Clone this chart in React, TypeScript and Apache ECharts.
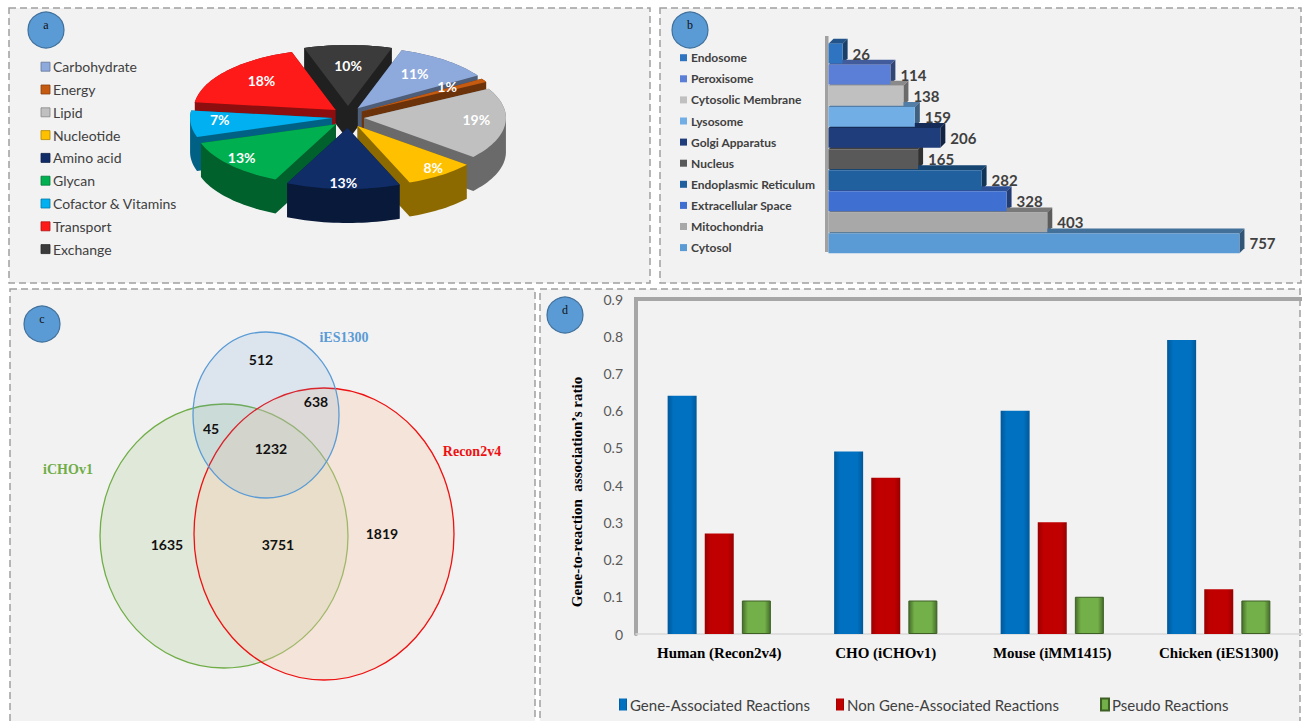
import React, { useEffect, useRef } from 'react';
import * as echarts from 'echarts';

// ---------- Panel a: reaction subsystems ----------
const pieNames = ['Carbohydrate', 'Energy', 'Lipid', 'Nucleotide', 'Amino acid', 'Glycan', 'Cofactor & Vitamins', 'Transport', 'Exchange'];
const pieValues = [11, 1, 19, 8, 13, 13, 7, 18, 10];
const pieColors = ['#8ea9db', '#c55a11', '#c0c0c0', '#ffc000', '#112d68', '#00b050', '#00b0f0', '#ff1a1a', '#3b3b3b'];

// ---------- Panel b: compartments ----------
const locNames = ['Endosome', 'Peroxisome', 'Cytosolic Membrane', 'Lysosome', 'Golgi Apparatus', 'Nucleus', 'Endoplasmic Reticulum', 'Extracellular Space', 'Mitochondria', 'Cytosol'];
const locValues = [26, 114, 138, 159, 206, 165, 282, 328, 403, 757];
const locColors = ['#2f74c0', '#5b7fd6', '#c0c0c0', '#72aee6', '#1f3d7a', '#595959', '#20609f', '#3f6fd0', '#a8a8a8', '#5b9bd5'];

// ---------- Panel c: Venn ----------
const vennSetNames = ['iES1300', 'iCHOv1', 'Recon2v4'];
const vennCounts = [512, 638, 45, 1232, 1635, 3751, 1819];

// ---------- Panel d: GPR ratio ----------
const organisms = ['Human (Recon2v4)', 'CHO (iCHOv1)', 'Mouse (iMM1415)', 'Chicken (iES1300)'];
const geneAssociated = [0.64, 0.49, 0.6, 0.79];
const nonGeneAssociated = [0.27, 0.42, 0.3, 0.12];
const pseudoReactions = [0.09, 0.09, 0.1, 0.09];
const seriesNamesD = ['Gene-Associated Reactions', 'Non Gene-Associated Reactions', 'Pseudo Reactions'];
const yTitleD = 'Gene-to-reaction  association\u2019s ratio';

function shade(hex: string, f: number): string {
  const n = parseInt(hex.slice(1), 16);
  const r = Math.round(((n >> 16) & 255) * f);
  const g = Math.round(((n >> 8) & 255) * f);
  const b = Math.round((n & 255) * f);
  return '#' + [r, g, b].map((c) => c.toString(16).padStart(2, '0')).join('');
}

function convexHull(points: number[][]): number[][] {
  const pts = points.slice().sort((a, b) => a[0] - b[0] || a[1] - b[1]);
  const cross = (o: number[], a: number[], b: number[]) => (a[0] - o[0]) * (b[1] - o[1]) - (a[1] - o[1]) * (b[0] - o[0]);
  const lower: number[][] = [];
  for (const p of pts) {
    while (lower.length >= 2 && cross(lower[lower.length - 2], lower[lower.length - 1], p) <= 0) lower.pop();
    lower.push(p);
  }
  const upper: number[][] = [];
  for (let i = pts.length - 1; i >= 0; i--) {
    const p = pts[i];
    while (upper.length >= 2 && cross(upper[upper.length - 2], upper[upper.length - 1], p) <= 0) upper.pop();
    upper.push(p);
  }
  upper.pop();
  lower.pop();
  return lower.concat(upper);
}

const PIE = { cx: 348, cy: 117, rx: 142, ry: 61, depth: 34, ex: 16, ey: 11, start: 18 };
const pieTotal = pieValues.reduce((a, b) => a + b, 0);
const pieBefore = pieValues.map((_, i) => pieValues.slice(0, i).reduce((a, b) => a + b, 0));

const panelFill = '#f2f2f2';
const dash = { stroke: '#a0a0a0', lineWidth: 1.5, lineDash: [7, 4] };

function labelCircle(cx: number, cy: number, letter: string) {
  return [
    { type: 'circle', shape: { cx, cy, r: 18 }, style: { fill: '#5b9bd5', stroke: '#41719c', lineWidth: 1.2 }, z: 5 },
    { type: 'text', style: { text: letter, x: cx, y: cy - 5, fill: '#111', fontSize: 12, fontFamily: 'Liberation Serif', align: 'center', verticalAlign: 'middle' }, z: 6 },
  ];
}

export default function App() {
  const ref = useRef<HTMLDivElement>(null);

  useEffect(() => {
    if (!ref.current) return;
    const chart = echarts.init(ref.current, null, { renderer: 'svg' });

    const graphics: any[] = [];
    // panel backgrounds + dashed borders
    graphics.push({ type: 'rect', shape: { x: 9, y: 8, width: 641, height: 275 }, style: { fill: panelFill, ...dash }, z: -5 });
    graphics.push({ type: 'rect', shape: { x: 660, y: 8, width: 641, height: 275 }, style: { fill: panelFill, ...dash }, z: -5 });
    graphics.push({ type: 'rect', shape: { x: 10, y: 289, width: 525, height: 450 }, style: { fill: panelFill, ...dash }, z: -5 });
    graphics.push({ type: 'rect', shape: { x: 540, y: 289, width: 760, height: 450 }, style: { fill: panelFill, ...dash }, z: -5 });

    graphics.push(...labelCircle(46, 30, 'a'));
    graphics.push(...labelCircle(690, 30, 'b'));
    graphics.push(...labelCircle(42, 324, 'c'));
    graphics.push(...labelCircle(565, 315, 'd'));

    // panel a legend
    pieNames.forEach((name, i) => {
      const y = 66.7 + i * 22.8;
      graphics.push({ type: 'rect', shape: { x: 41, y: y - 4.5, width: 9, height: 9 }, style: { fill: pieColors[i], stroke: shade(pieColors[i], 0.7), lineWidth: 0.8 }, z: 5 });
      graphics.push({ type: 'text', style: { text: name, x: 53, y, fill: '#404040', fontSize: 14, fontFamily: 'Lato', verticalAlign: 'middle' }, z: 5 });
    });

    // panel b legend
    locNames.forEach((name, i) => {
      const y = 57.7 + i * 21.1;
      graphics.push({ type: 'rect', shape: { x: 680, y: y - 3.5, width: 7, height: 7 }, style: { fill: locColors[i] }, z: 5 });
      graphics.push({ type: 'text', style: { text: name, x: 691, y, fill: '#404040', fontSize: 12, fontWeight: 'bold', fontFamily: 'Lato', verticalAlign: 'middle' }, z: 5 });
    });
    // panel b back wall
    graphics.push({ type: 'rect', shape: { x: 825, y: 36, width: 3.5, height: 216 }, style: { fill: '#7f7f7f', opacity: 0.7 }, z: 1 });

    // panel c venn
    const ellipses = [
      { cx: 224, cy: 536, rx: 124, ry: 132, fill: 'rgba(112,173,71,0.15)', stroke: '#70ad47' },
      { cx: 324, cy: 534, rx: 130, ry: 146, fill: 'rgba(248,203,173,0.35)', stroke: '#ee1111' },
      { cx: 266, cy: 415, rx: 73, ry: 83, fill: 'rgba(91,155,213,0.15)', stroke: '#5b9bd5' },
    ];
    ellipses.forEach((e) => {
      graphics.push({ type: 'ellipse', shape: { cx: e.cx, cy: e.cy, rx: e.rx, ry: e.ry }, style: { fill: e.fill, stroke: e.stroke, lineWidth: 1.3 }, z: 2 });
    });
    const countPos = [[261, 359], [316, 401], [211, 428], [271, 448], [167, 544], [278, 544], [382, 533]];
    vennCounts.forEach((c, i) => {
      graphics.push({ type: 'text', style: { text: String(c), x: countPos[i][0], y: countPos[i][1], fill: '#111', fontSize: 14, fontWeight: 'bold', fontFamily: 'Lato', align: 'center', verticalAlign: 'middle' }, z: 5 });
    });
    const setPos = [[344, 337, '#5b9bd5'], [68, 469, '#70ad47'], [472, 451, '#ee1111']];
    vennSetNames.forEach((n, i) => {
      graphics.push({ type: 'text', style: { text: n, x: setPos[i][0], y: setPos[i][1], fill: setPos[i][2], fontSize: 14, fontWeight: 'bold', fontFamily: 'Liberation Serif', align: 'center', verticalAlign: 'middle' }, z: 5 });
    });

    // panel d frame (3D wall top edge) and axis title
    graphics.push({ type: 'rect', shape: { x: 634, y: 297, width: 668, height: 4 }, style: { fill: '#a6a6a6' }, z: 1 });
    graphics.push({
      type: 'text', x: 577, y: 492, rotation: Math.PI / 2,
      style: { text: yTitleD, x: 0, y: 0, fill: '#000', fontSize: 15, fontWeight: 'bold', fontFamily: 'Liberation Serif', align: 'center', verticalAlign: 'middle' },
      z: 5,
    });

    const barGrad = (c1: string, c2: string) => ({
      type: 'linear', x: 0, y: 0, x2: 1, y2: 0,
      colorStops: [{ offset: 0, color: c2 }, { offset: 0.2, color: c1 }, { offset: 0.8, color: c1 }, { offset: 1, color: c2 }],
    });

    const legendBase = { top: 692, selectedMode: false, icon: 'rect', itemWidth: 8, itemHeight: 12, textStyle: { fontFamily: 'Lato', fontSize: 15, color: '#404040', padding: [0, 0, 0, -2] } };

    const option: any = {
      animation: false,
      backgroundColor: '#ffffff',
      graphic: { elements: graphics },
      grid: [
        { left: 828.5, top: 43, width: 434.3, height: 211 },
        { left: 636, top: 299, width: 666, height: 335 },
      ],
      xAxis: [
        { gridIndex: 0, type: 'value', min: 0, max: 800, show: false },
        {
          gridIndex: 1, type: 'category', data: organisms,
          axisLine: { show: true, lineStyle: { color: '#d9d9d9', width: 1.5 } },
          axisTick: { show: false },
          axisLabel: { color: '#000', fontFamily: 'Liberation Serif', fontWeight: 'bold', fontSize: 15, margin: 11 },
        },
      ],
      yAxis: [
        { gridIndex: 0, type: 'category', data: locNames, inverse: true, show: false },
        {
          gridIndex: 1, type: 'value', min: 0, max: 0.9, interval: 0.1,
          axisLine: { show: true, lineStyle: { color: '#a6a6a6', width: 4 } },
          axisTick: { show: false },
          splitLine: { show: false },
          axisLabel: { color: '#595959', fontFamily: 'Lato', fontSize: 14, margin: 13 },
        },
      ],
      legend: [
        { ...legendBase, data: [seriesNamesD[0]], left: 614 },
        { ...legendBase, data: [seriesNamesD[1]], left: 831 },
        { ...legendBase, data: [seriesNamesD[2]], left: 1095 },
      ],
      series: [
        {
          type: 'custom',
          name: 'Subsystems',
          coordinateSystem: 'none',
          data: pieValues.map((v, i) => ({ name: pieNames[i], value: [v] })),
          renderItem: (params: any, api: any) => {
            const i = params.dataIndex;
            const v = api.value(0) as number;
            const a0 = ((PIE.start + (pieBefore[i] / pieTotal) * 360) * Math.PI) / 180;
            const a1 = a0 + (v / pieTotal) * 2 * Math.PI;
            const am = (a0 + a1) / 2;
            const ox = PIE.cx + PIE.ex * Math.sin(am);
            const oy = PIE.cy - PIE.ey * Math.cos(am);
            const top: number[][] = [[ox, oy]];
            const n = Math.max(2, Math.ceil((a1 - a0) / (Math.PI / 90)));
            for (let k = 0; k <= n; k++) {
              const a = a0 + ((a1 - a0) * k) / n;
              top.push([ox + PIE.rx * Math.sin(a), oy - PIE.ry * Math.cos(a)]);
            }
            const solid = convexHull(top.concat(top.map((p) => [p[0], p[1] + PIE.depth])));
            const zb = Math.round((1 - Math.cos(am)) * 100) * 3;
            const lr = 0.78 - 0.16 * Math.cos(am);
            const lx = ox + lr * PIE.rx * Math.sin(am);
            const ly = oy - lr * PIE.ry * Math.cos(am) - 3;
            return {
              type: 'group',
              children: [
                { type: 'polygon', shape: { points: solid }, style: { fill: shade(pieColors[i], 0.55) }, z2: zb },
                { type: 'polygon', shape: { points: top }, style: { fill: pieColors[i] }, z2: zb + 1 },
                { type: 'text', style: { text: v + '%', x: lx, y: ly, fill: '#ffffff', fontSize: 14, fontWeight: 'bold', fontFamily: 'Lato', align: 'center', verticalAlign: 'middle' }, z2: 1000 },
              ],
            };
          },
        },
        {
          type: 'custom',
          name: 'Compartment 3D',
          xAxisIndex: 0, yAxisIndex: 0,
          z: 2,
          data: locValues.map((v, i) => [v, i]),
          encode: { x: 0, y: 1 },
          renderItem: (params: any, api: any) => {
            const i = params.dataIndex;
            const v = api.value(0);
            const idx = api.value(1);
            const end = api.coord([v, idx]);
            const start = api.coord([0, idx]);
            const band = api.size([0, 1])[1];
            const h = band * 0.94;
            const yt = end[1] - h / 2;
            const yb = end[1] + h / 2;
            const d = 5;
            return {
              type: 'group',
              children: [
                { type: 'polygon', shape: { points: [[start[0], yt], [end[0], yt], [end[0] + d, yt - d], [start[0] + d, yt - d]] }, style: { fill: shade(locColors[i], 0.72) } },
                { type: 'polygon', shape: { points: [[end[0], yt], [end[0] + d, yt - d], [end[0] + d, yb - d], [end[0], yb]] }, style: { fill: shade(locColors[i], 0.55) } },
              ],
            };
          },
        },
        {
          type: 'bar',
          name: 'Compartments',
          xAxisIndex: 0, yAxisIndex: 0,
          z: 3,
          barCategoryGap: '6%',
          data: locValues.map((v, i) => ({ value: v, itemStyle: { color: locColors[i] } })),
          label: { show: true, position: 'right', distance: 10, color: '#404040', fontSize: 15, fontWeight: 'bold', fontFamily: 'Lato', formatter: '{c}' },
        },
        {
          type: 'bar', name: seriesNamesD[0], xAxisIndex: 1, yAxisIndex: 1, barWidth: 29, barGap: '28%',
          data: geneAssociated, itemStyle: { color: barGrad('#0070c0', '#00589a') },
        },
        {
          type: 'bar', name: seriesNamesD[1], xAxisIndex: 1, yAxisIndex: 1, barWidth: 29, barGap: '28%',
          data: nonGeneAssociated, itemStyle: { color: barGrad('#c00000', '#980000') },
        },
        {
          type: 'bar', name: seriesNamesD[2], xAxisIndex: 1, yAxisIndex: 1, barWidth: 29, barGap: '28%',
          data: pseudoReactions, itemStyle: { color: barGrad('#74b04a', '#456e2a'), borderColor: '#3d5f24', borderWidth: 1 },
        },
      ],
    };

    chart.setOption(option);
    return () => {
      chart.dispose();
    };
  }, []);

  return <div ref={ref} style={{ position: 'fixed', left: 0, top: 0, width: 1303, height: 721 }} />;
}
